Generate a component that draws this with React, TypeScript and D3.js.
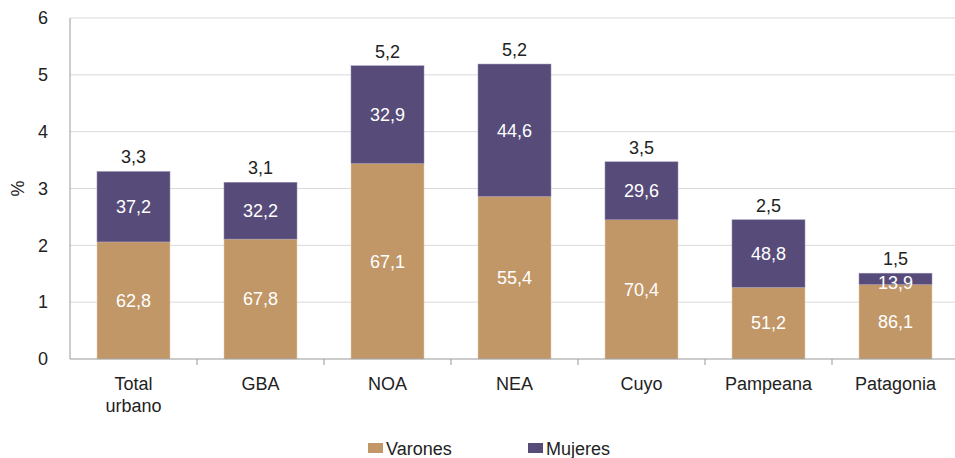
import React from "react";
import * as d3 from "d3";

const categories: string[][] = [
  ["Total", "urbano"],
  ["GBA"],
  ["NOA"],
  ["NEA"],
  ["Cuyo"],
  ["Pampeana"],
  ["Patagonia"],
];
// bar heights in %
const varonesValues = [2.06, 2.11, 3.44, 2.86, 2.45, 1.26, 1.31];
const mujeresValues = [1.24, 1.0, 1.72, 2.33, 1.02, 1.19, 0.2];
// labels
const varonesLabels = ["62,8", "67,8", "67,1", "55,4", "70,4", "51,2", "86,1"];
const mujeresLabels = ["37,2", "32,2", "32,9", "44,6", "29,6", "48,8", "13,9"];
const totalLabels = ["3,3", "3,1", "5,2", "5,2", "3,5", "2,5", "1,5"];
const yTicks = [0, 1, 2, 3, 4, 5, 6];
const seriesNames = ["Varones", "Mujeres"];
const colors = ["#C19767", "#574C79"];

const W = 955;
const H = 458;
const FONT = "'Liberation Sans', Arial, Helvetica, sans-serif";
const FS = 18;

export default function App() {
  const x = d3
    .scaleBand<number>()
    .domain(categories.map((_, i) => i))
    .range([70, 959])
    .paddingInner(0.425)
    .paddingOuter(0.2125);
  const y = d3.scaleLinear().domain([0, 6]).range([359, 18]);
  const bw = x.bandwidth();

  return (
    <svg width={W} height={H} style={{ position: "absolute", left: 0, top: 0, background: "#fff" }} fontFamily={FONT}>
      {yTicks.map((t) => (
        <g key={t}>
          {t > 0 && <line x1={70} x2={W} y1={y(t)} y2={y(t)} stroke="#d9d9d9" strokeWidth={1} />}
          <text x={48} y={y(t)} dy="0.35em" textAnchor="end" fontSize={FS} fill="#222">
            {t}
          </text>
        </g>
      ))}
      <text transform={`translate(18,${y(3)}) rotate(-90)`} textAnchor="middle" fontSize={FS} fill="#222" dy="0.35em">
        %
      </text>
      {categories.map((c, i) => {
        const x0 = x(i)!;
        const v = varonesValues[i];
        const m = mujeresValues[i];
        const tot = v + m;
        const cx = x0 + bw / 2;
        return (
          <g key={i}>
            <rect x={x0} y={y(v)} width={bw} height={y(0) - y(v)} fill={colors[0]} stroke="#e8d6c0" strokeWidth={0.5} />
            <rect x={x0} y={y(tot)} width={bw} height={y(v) - y(tot)} fill={colors[1]} stroke="#9c93b4" strokeWidth={0.5} />
            <text x={cx} y={y(v / 2)} dy="0.35em" textAnchor="middle" fontSize={FS} fill="#fff">
              {varonesLabels[i]}
            </text>
            <text x={cx} y={m < 0.4 ? y(v + m / 2) + 4 : y(v + m / 2)} dy="0.35em" textAnchor="middle" fontSize={FS} fill="#fff">
              {mujeresLabels[i]}
            </text>
            <text x={cx} y={y(tot) - 8} textAnchor="middle" fontSize={FS} fill="#222">
              {totalLabels[i]}
            </text>
            {c.map((line, k) => (
              <text key={k} x={cx} y={390 + k * 22} textAnchor="middle" fontSize={FS} fill="#222">
                {line}
              </text>
            ))}
          </g>
        );
      })}
      <line x1={70} x2={70} y1={18} y2={359} stroke="#999" strokeWidth={1} />
      <line x1={70} x2={W} y1={359} y2={359} stroke="#999" strokeWidth={1} />
      {categories.map((_, i) => (
        <line key={i} x1={70 + (i + 1) * (889 / 7)} x2={70 + (i + 1) * (889 / 7)} y1={359} y2={365} stroke="#999" />
      ))}
      {seriesNames.map((s, i) => {
        const lx = [368, 528][i];
        return (
          <g key={s}>
            <rect x={lx} y={443} width={15} height={10} fill={colors[i]} />
            <text x={lx + 18} y={455} fontSize={FS} fill="#222">
              {s}
            </text>
          </g>
        );
      })}
    </svg>
  );
}
